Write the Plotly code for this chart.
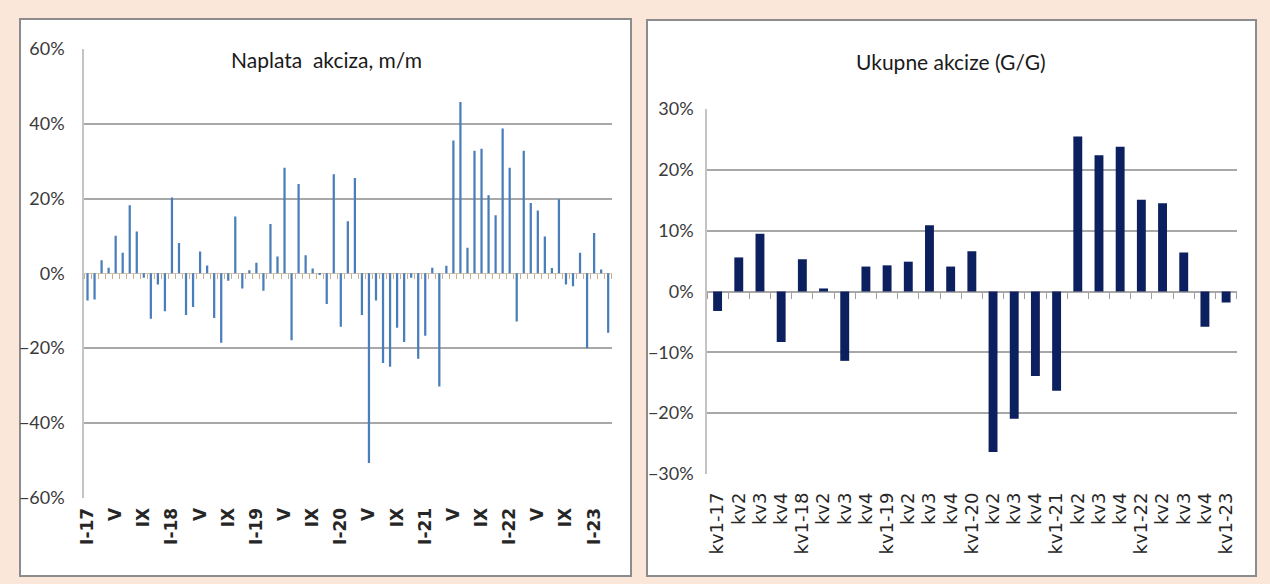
import plotly.graph_objects as go

W, H = 1270, 584

# ---------------- data ----------------
roman = ["I", "II", "III", "IV", "V", "VI", "VII", "VIII", "IX", "X", "XI", "XII"]
years_m = ["17", "18", "19", "20", "21", "22", "23"]
month_cats = [f"{r}-{y}" for y in years_m for r in roman][:75]
month_tick_labels = ["I-17", "V", "IX", "I-18", "V", "IX", "I-19", "V", "IX",
                     "I-20", "V", "IX", "I-21", "V", "IX", "I-22", "V", "IX", "I-23"]
monthly_mm = [
    -7.3, -7.0, 3.5, 1.5, 10.0, 5.5, 18.2, 11.2, -1.2, -12.2, -3.0, -10.2,
    20.3, 8.1, -11.2, -9.0, 5.8, 2.1, -12.0, -18.6, -2.0, 15.2, -4.1, 0.8,
    2.8, -4.7, 13.2, 4.5, 28.2, -17.9, 23.9, 4.8, 1.3, -0.4, -8.2, 26.5,
    -14.3, 13.9, 25.5, -11.2, -50.8, -7.3, -24.0, -25.0, -14.6, -18.4, -1.2, -22.9,
    -16.7, 1.5, -30.3, 2.0, 35.5, 45.8, 6.8, 32.8, 33.3, 20.9, 15.5, 38.7,
    28.2, -12.9, 32.8, 18.8, 16.8, 9.8, 1.4, 19.8, -3.0, -3.5, 5.5, -20.1,
    10.8, 1.0, -15.9,
]

quarter_cats = [f"kv{q}-{y}" for y in years_m for q in (1, 2, 3, 4)][:25]
quarter_tick_labels = ["kv1-17", "kv2", "kv3", "kv4", "kv1-18", "kv2", "kv3", "kv4",
                       "kv1-19", "kv2", "kv3", "kv4", "kv1-20", "kv2", "kv3", "kv4",
                       "kv1-21", "kv2", "kv3", "kv4", "kv1-22", "kv2", "kv3", "kv4",
                       "kv1-23"]
quarterly_yy = [
    -3.2, 5.6, 9.5, -8.3, 5.3, 0.5, -11.4, 4.1, 4.3, 4.9, 10.9, 4.1, 6.6,
    -26.4, -20.9, -13.9, -16.3, 25.5, 22.4, 23.8, 15.1, 14.5, 6.4, -5.8, -1.8,
]

# ---------------- layout helpers ----------------
def px_x(v):
    return v / W

def px_y(v):
    return 1 - v / H

L_X = [px_x(84), px_x(611.7)]
L_Y = [px_y(497.5), px_y(49)]
R_X = [px_x(707), px_x(1236.7)]
R_Y = [px_y(474), px_y(109)]

LBL = "Lato, Carlito, Calibri, sans-serif"
WIDE = "DejaVu Sans, Verdana, sans-serif"
GRID = "#A8A8A8"
TXT = "#3A3A3A"

fig = go.Figure()

fig.add_trace(go.Bar(
    x=month_cats, y=monthly_mm, xaxis="x", yaxis="y",
    marker=dict(color="#4A7EBB", line=dict(width=0)), width=0.32,
    showlegend=False, hovertemplate="%{x}: %{y:.1f}%<extra></extra>",
))
fig.add_trace(go.Bar(
    x=quarter_cats, y=quarterly_yy, xaxis="x2", yaxis="y2",
    marker=dict(color="#0C1F5E", line=dict(width=0)), width=0.42,
    showlegend=False, hovertemplate="%{x}: %{y:.1f}%<extra></extra>",
))
# helper (invisible) traces so that the zero-line tick axes are rendered
fig.add_trace(go.Scatter(x=[0], y=[0], xaxis="x3", yaxis="y", mode="markers",
                         marker=dict(opacity=0), showlegend=False, hoverinfo="skip"))
fig.add_trace(go.Scatter(x=[0], y=[0], xaxis="x4", yaxis="y2", mode="markers",
                         marker=dict(opacity=0), showlegend=False, hoverinfo="skip"))

fig.update_layout(
    template="none",
    width=W, height=H,
    margin=dict(l=0, r=0, t=0, b=0, pad=0, autoexpand=False),
    paper_bgcolor="#FBE7DA",
    plot_bgcolor="rgba(0,0,0,0)",
    bargap=0.5,
    xaxis=dict(
        domain=L_X, anchor="y", type="category", automargin=False,
        categoryorder="array", categoryarray=month_cats,
        range=[-0.5, len(month_cats) - 0.5],
        tickmode="array", tickvals=month_cats[::4], ticktext=month_tick_labels,
        tickangle=-90, ticks="", showgrid=False, showline=False, zeroline=False,
        tickfont=dict(family=WIDE, size=17, color="#262626", weight="bold"),
        ticklabelstandoff=6,
    ),
    yaxis=dict(
        domain=L_Y, anchor="x", range=[-60, 60], dtick=20, ticksuffix="%",
        automargin=False,
        showgrid=True, gridcolor=GRID, gridwidth=1.6,
        showline=True, linecolor="#C4C4C4", linewidth=1.5,
        zeroline=True, zerolinecolor="#D2C2AE", zerolinewidth=1,
        ticks="", tickfont=dict(family=LBL, size=18, color=TXT),
        ticklabelstandoff=14,
    ),
    xaxis3=dict(
        overlaying="x", anchor="free", automargin=False,
        position=L_Y[0] + 0.5 * (L_Y[1] - L_Y[0]),
        range=[-0.5, len(month_cats) - 0.5], tick0=-0.5, dtick=1,
        ticks="outside", ticklen=5, tickwidth=1, tickcolor="#C9AE8E",
        showticklabels=False, showgrid=False, showline=False, zeroline=False,
    ),
    xaxis2=dict(
        domain=R_X, anchor="y2", type="category", automargin=False,
        categoryorder="array", categoryarray=quarter_cats,
        range=[-0.5, len(quarter_cats) - 0.5],
        tickmode="array", tickvals=quarter_cats, ticktext=quarter_tick_labels,
        tickangle=-90, ticks="", showgrid=False, showline=False, zeroline=False,
        tickfont=dict(family=WIDE, size=18, color="#262626"),
        ticklabelstandoff=14,
    ),
    yaxis2=dict(
        domain=R_Y, anchor="x2", range=[-30, 30], dtick=10, ticksuffix="%",
        automargin=False,
        showgrid=True, gridcolor=GRID, gridwidth=1.6,
        showline=True, linecolor="#C4C4C4", linewidth=1.5,
        zeroline=True, zerolinecolor=GRID, zerolinewidth=1.6,
        ticks="", tickfont=dict(family=LBL, size=18, color=TXT),
        ticklabelstandoff=8,
    ),
    xaxis4=dict(
        overlaying="x2", anchor="free", automargin=False,
        position=R_Y[0] + 0.5 * (R_Y[1] - R_Y[0]),
        range=[-0.5, len(quarter_cats) - 0.5], tick0=-0.5, dtick=1,
        ticks="outside", ticklen=6, tickwidth=1, tickcolor="#A0A0A0",
        showticklabels=False, showgrid=False, showline=False, zeroline=False,
    ),
    shapes=[
        dict(type="rect", xref="paper", yref="paper", layer="below",
             x0=px_x(20), x1=px_x(631), y0=px_y(576), y1=px_y(19),
             fillcolor="white", line=dict(color="#8C8C8C", width=2)),
        dict(type="rect", xref="paper", yref="paper", layer="below",
             x0=px_x(647), x1=px_x(1256), y0=px_y(576), y1=px_y(20),
             fillcolor="white", line=dict(color="#8C8C8C", width=2)),
    ],
    annotations=[
        dict(text="Naplata  akciza, m/m", xref="paper", yref="paper",
             x=px_x(327), y=px_y(60), xanchor="center", yanchor="middle",
             showarrow=False, font=dict(family=LBL, size=21, color="#1A1A1A")),
        dict(text="Ukupne akcize (G/G)", xref="paper", yref="paper",
             x=px_x(951), y=px_y(62), xanchor="center", yanchor="middle",
             showarrow=False, font=dict(family=LBL, size=21, color="#1A1A1A")),
    ],
)

fig.write_html(
    "out.html",
    config={"displayModeBar": False},
    post_script="document.body.style.margin='0';document.body.style.overflow='hidden';",
)
